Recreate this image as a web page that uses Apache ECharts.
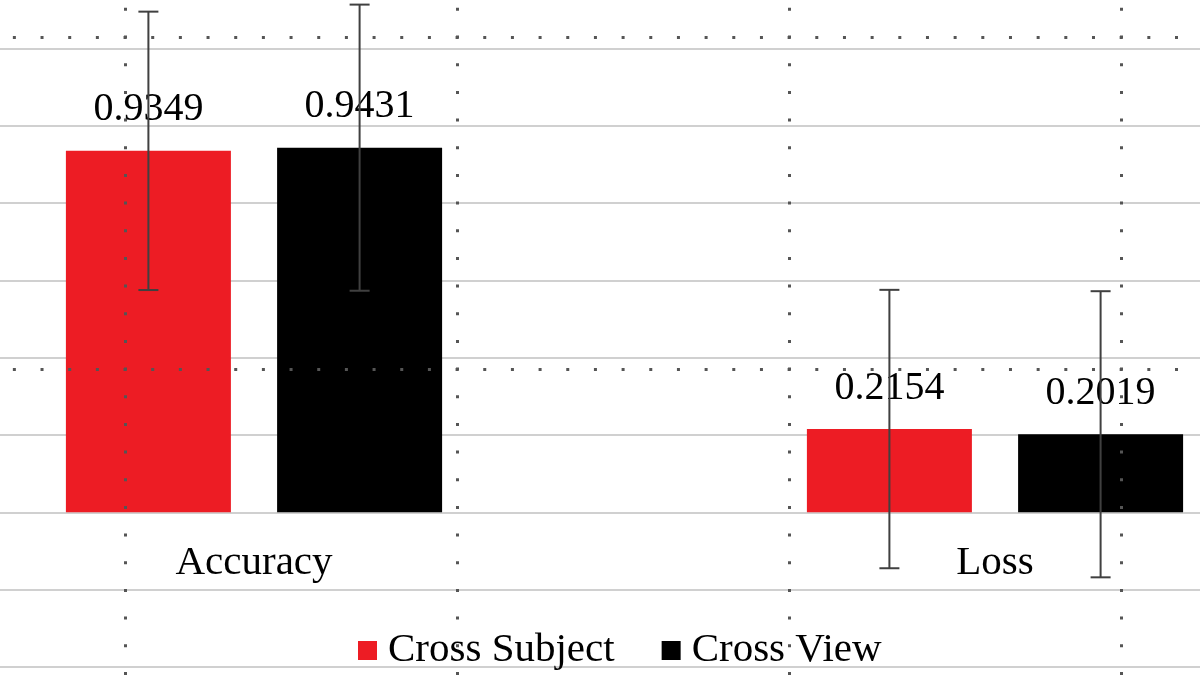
<!DOCTYPE html>
<html>
<head>
<meta charset="utf-8">
<script src="https://cdn.jsdelivr.net/npm/echarts@6/dist/echarts.min.js"></script>
<style>
  html, body { margin: 0; padding: 0; background: #fff; }
  #chart { width: 1200px; height: 678px; }
</style>
</head>
<body>
<div id="chart"></div>
<script>
// data
const categories = ["Accuracy", "Loss"];
const seriesNames = ["Cross Subject", "Cross View"];
const crossSubject = [0.9349, 0.2154];
const crossView = [0.9431, 0.2019];
const crossSubjectErr = [0.36, 0.36];
const crossViewErr = [0.37, 0.37];

const SERIF = "Liberation Serif";
const BAR_W = 165;
const BAR_GAP = 0.28;
const offset = BAR_W * (1 + BAR_GAP) / 2;

const dotted = {
  show: true,
  lineStyle: { color: "#555", width: 3, type: [3, 24.67], dashOffset: 1.5 }
};

function errSeries(vals, errs, sign) {
  return {
    type: "custom",
    xAxisIndex: 0,
    yAxisIndex: 0,
    z: 4,
    silent: true,
    encode: { x: 0, y: 1 },
    data: vals.map((v, i) => [i, v, errs[i]]),
    renderItem: function (params, api) {
      const mid = api.value(1), err = api.value(2);
      const hi = api.coord([api.value(0), mid + err]);
      const lo = api.coord([api.value(0), mid - err]);
      const x = hi[0] + sign * offset;
      const st = { stroke: "#404040", lineWidth: 2 };
      return {
        type: "group",
        children: [
          { type: "line", shape: { x1: x, y1: hi[1], x2: x, y2: lo[1] }, style: st },
          { type: "line", shape: { x1: x - 10, y1: hi[1], x2: x + 10, y2: hi[1] }, style: st },
          { type: "line", shape: { x1: x - 10, y1: lo[1], x2: x + 10, y2: lo[1] }, style: st }
        ]
      };
    }
  };
}

function barSeries(name, vals, color) {
  return {
    name: name,
    type: "bar",
    xAxisIndex: 0,
    yAxisIndex: 0,
    barWidth: BAR_W,
    barGap: (BAR_GAP * 100) + "%",
    itemStyle: { color: color },
    label: {
      show: true,
      position: "top",
      distance: 21,
      fontFamily: SERIF,
      fontSize: 40,
      color: "#000",
      formatter: p => p.value.toFixed(4)
    },
    data: vals
  };
}

const chart = echarts.init(document.getElementById("chart"));
chart.setOption({
  animation: false,
  backgroundColor: "#fff",
  grid: [
    { left: -116.5, right: -165.5, top: -29, bottom: 11, outerBoundsMode: "none" },
    // dotted overlay grid
    { left: -207, right: -253, top: -295, bottom: -355, outerBoundsMode: "none" }
  ],
  legend: {
    data: seriesNames,
    left: 358,
    top: 630,
    padding: 0,
    icon: "rect",
    itemWidth: 19,
    itemHeight: 19,
    itemGap: 47,
    textStyle: { fontFamily: SERIF, fontSize: 41, color: "#000", padding: [0, 0, 0, 6] }
  },
  xAxis: [
    {
      type: "category",
      gridIndex: 0,
      data: categories,
      offset: -154.5,
      axisLine: { show: true, onZero: false, lineStyle: { color: "#d0d0d0", width: 2 } },
      axisTick: { show: false },
      axisLabel: { show: true, interval: 0, fontFamily: SERIF, fontSize: 41, color: "#000", margin: 30 }
    },
    {
      type: "value",
      gridIndex: 1,
      min: 0, max: 5, interval: 1,
      z: 10,
      axisLine: { show: false },
      axisTick: { show: false },
      axisLabel: { show: false },
      splitLine: dotted
    }
  ],
  yAxis: [
    {
      type: "value",
      gridIndex: 0,
      min: -0.4, max: 1.4, interval: 0.2,
      axisLine: { show: false },
      axisTick: { show: false },
      axisLabel: { show: false },
      splitLine: { lineStyle: { color: "#d0d0d0", width: 2 } }
    },
    {
      type: "value",
      gridIndex: 1,
      min: 0, max: 4, interval: 1,
      z: 10,
      axisLine: { show: false },
      axisTick: { show: false },
      axisLabel: { show: false },
      splitLine: dotted
    }
  ],
  series: [
    barSeries(seriesNames[0], crossSubject, "#ed1c24"),
    barSeries(seriesNames[1], crossView, "#000000"),
    errSeries(crossSubject, crossSubjectErr, -1),
    errSeries(crossView, crossViewErr, 1)
  ]
});
</script>
</body>
</html>
